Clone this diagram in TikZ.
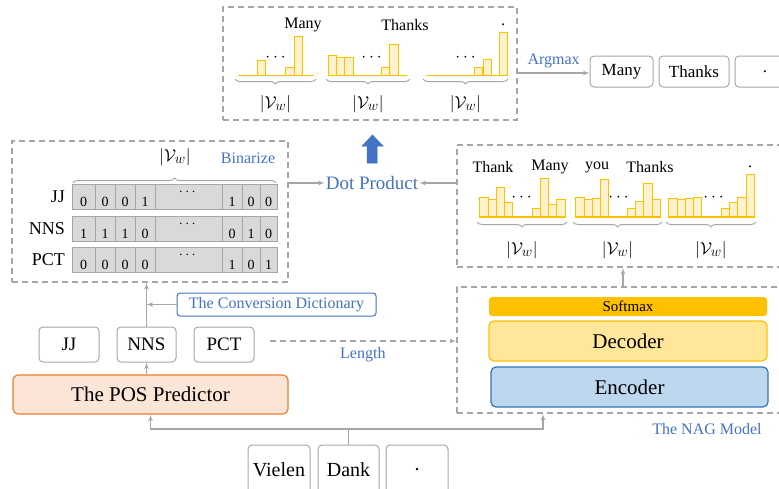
\documentclass[tikz,border=0pt]{standalone}
\usepackage{fontspec}
\setmainfont{Liberation Serif}
\usepackage{amsmath}
\usetikzlibrary{arrows,positioning,decorations.pathreplacing}
\definecolor{lgray}{HTML}{A6A6A6}
\definecolor{barline}{HTML}{FFC000}
\definecolor{barfill}{HTML}{FFF2CC}
\definecolor{cellgray}{HTML}{D9D9D9}
\definecolor{nagblue}{HTML}{4472C4}
\definecolor{decfill}{HTML}{FFE699}
\definecolor{encfill}{HTML}{BDD7EE}
\definecolor{encline}{HTML}{2E75B6}
\definecolor{posfill}{HTML}{FBE5D6}
\definecolor{posline}{HTML}{ED7D31}

\begin{document}
\begin{tikzpicture}[x=1pt,y=-1pt,>=latex',every node/.append style={align=center,inner sep=1pt},
    box/.style={draw=lgray, line width=1pt, rounded corners=4pt, minimum height=31pt, font=\fontsize{17}{20}\selectfont},
    frame/.style={draw=lgray, line width=1.6pt, dash pattern=on 6pt off 4pt},
    bar/.style={draw=barline, fill=barfill, line width=0.9pt},
    cell/.style={draw=lgray, fill=cellgray, line width=0.8pt},
    conn/.style={draw=lgray, line width=1.2pt},
    bluelab/.style={text=nagblue, font=\fontsize{16}{18}\selectfont},
    word/.style={font=\fontsize{16}{18}\selectfont},
    vsize/.style={font=\fontsize{19}{22}\selectfont},
    dotsize/.style={font=\fontsize{17}{20}\selectfont},
    curly/.style={decorate, decoration={brace, amplitude=5pt}, draw=lgray, line width=1pt}]
    \useasboundingbox (0,0) rectangle (779,488);
    \clip (0,0) rectangle (779,488);

    % output distributions
    \node [frame, minimum width=294pt, minimum height=113pt] (outbox) at (370,63.5) {};
    \foreach \xa/\w/\t in {257/8/60, 285/9/67, 294/8/36, 328/8/55, 336/8/57, 344/9/57, 381/8/67, 389/9/44, 474/8/67, 483/8/59, 499/8/32}
        \draw [bar] (\xa,75.5) rectangle ++(\w,\t-75.5);
    \foreach \xa/\xb in {238/314, 328/407, 427/507}
        \draw [barline, line width=1.2pt] (\xa,75.5) -- (\xb,75.5);
    \foreach \xa/\xb/\d in {235/316/277, 326/410/373, 423/508/467} {
        \draw [curly, decoration={mirror}] (\xa,79) -- (\xb,79);
        \node [vsize] at ({(\xa+\xb)/2},104) {$|\mathcal{V}_w|$};
        \node [dotsize] at (\d,58) {$\cdots$};
    }
    \node [word] (tMany)   at (303,25) {Many};
    \node [word] (tThanks) at (405,25) {Thanks};
    \node [word] (tDot)    at (503,25) {.};

    % argmax outputs
    \node [box, minimum width=63pt] (oMany) at (621.5,71.5) {Many};
    \node [box, minimum width=70pt, right=5pt of oMany] (oThanks) {Thanks};
    \node [box, minimum width=60pt, right=5pt of oThanks] (oDot) {.};
    \draw [conn,->] (outbox.east |- 0,73) -- (oMany.west |- 0,73) node [midway, above=3pt, bluelab] {Argmax};

    % dot product
    \node [text=nagblue, font=\fontsize{19}{22}\selectfont] (dot) at (372,183) {Dot Product};
    \fill [nagblue, draw=encline, line width=0.5pt] (367,163) -- (367,146) -- (362,146) -- (372.5,135) -- (383,146) -- (377,146) -- (377,163) -- cycle;

    % binarized dictionary
    \node [frame, minimum width=276pt, minimum height=141pt] (binbox) at (150,211.5) {};
    \node [vsize] (vbin) at (175,157) {$|\mathcal{V}_w|$};
    \node [bluelab] (binlab) at (248,158) {Binarize};
    \draw [curly] (73,183) -- (276,183);
    \foreach \lab/\y/\a/\b/\c/\d/\e/\f/\g in {JJ/197/0/0/0/1/1/0/0, NNS/229/1/1/1/0/0/1/0, PCT/260/0/0/0/0/1/0/1} {
        \node [anchor=east, font=\fontsize{18}{20}\selectfont] (row\lab) at (66,\y) {\lab};
        \foreach \xa/\xb/\v in {72/95/\a, 95/115/\b, 115/135/\c, 135/155/\d, 222/242/\e, 242/260/\f, 260/277/\g} {
            \draw [cell] (\xa,\y-12.5) rectangle (\xb,\y+12.5);
            \node [font=\fontsize{14}{16}\selectfont] at ({(\xa+\xb)/2},\y+5) {\v};
        }
        \draw [cell] (155,\y-12.5) rectangle (222,\y+12.5);
        \node [font=\fontsize{14}{16}\selectfont] at (188.5,\y-5) {$\cdots$};
    }

    % scores from the decoder
    \node [frame, minimum width=332pt, minimum height=122pt] (scorebox) at (623,206) {};
    \foreach \xa/\w/\t in {479/9/197, 488/8/199, 496/8/187, 504/8/202, 532/8/208, 540/8/178, 548/8/204, 556/9/199,
                          575/9/197, 584/8/199, 592/8/198, 600/8/179, 627/8/208, 635/8/201, 643/9/183, 652/8/199,
                          668/9/198, 677/8/199, 685/8/198, 693/8/197, 721/8/208, 729/8/202, 737/9/197, 746/8/174}
        \draw [bar] (\xa,217) rectangle ++(\w,\t-217);
    \foreach \xa/\xb/\d in {477/567/523, 573/662/620, 666/756/715} {
        \draw [barline, line width=1.2pt] (\xa+2,217) -- (\xb-2,217);
        \draw [curly, decoration={mirror}] (\xa,222) -- (\xb,222);
        \node [vsize] at ({(\xa+\xb)/2},250) {$|\mathcal{V}_w|$};
        \node [dotsize] at (\d,198) {$\cdots$};
    }
    \node [word] (sThank)  at (493,167) {Thank};
    \node [word] (sMany)   at (550,167) {Many};
    \node [word] (sYou)    at (597,167) {you};
    \node [word] (sThanks) at (650,167) {Thanks};
    \node [word] (sDot)    at (750,167) {.};

    \draw [conn,->] (binbox.east |- dot.west) -- (dot.west);
    \draw [conn,->] (scorebox.west |- dot.east) -- (dot.east);

    % the NAG model
    \node [frame, minimum width=332pt, minimum height=126pt] (nag) at (623,350) {};
    \node [fill=barline, rounded corners=3pt, minimum width=278pt, minimum height=19pt, inner sep=0pt, font=\fontsize{15}{16}\selectfont] (softmax) at (628,306.5) {Softmax};
    \node [draw=barline, fill=decfill, line width=1.2pt, rounded corners=5pt, minimum width=278pt, minimum height=40pt, font=\fontsize{21}{24}\selectfont] (dec) at (628,341) {Decoder};
    \node [draw=encline, fill=encfill, line width=1.2pt, rounded corners=5pt, minimum width=277pt, minimum height=40pt, font=\fontsize{21}{24}\selectfont] (enc) at (629.5,387) {Encoder};
    \node [bluelab] (naglab) at (707,429) {The NAG Model};
    \draw [conn,->] (nag.north) -- (scorebox.south);

    % the POS predictor
    \node [draw=posline, fill=posfill, line width=1.2pt, rounded corners=5pt, minimum width=275pt, minimum height=39pt, font=\fontsize{21}{24}\selectfont] (pos) at (150.5,394.5) {The POS Predictor};
    \node [box, minimum width=60pt, minimum height=35pt, font=\fontsize{19}{22}\selectfont] (jj) at (69,344.5) {JJ};
    \node [box, minimum width=59pt, minimum height=35pt, font=\fontsize{19}{22}\selectfont, right=17pt of jj] (nns) {NNS};
    \node [box, minimum width=60pt, minimum height=35pt, font=\fontsize{19}{22}\selectfont, right=17pt of nns] (pct) {PCT};
    \node [draw=nagblue, line width=1pt, rounded corners=3pt, minimum width=199pt, minimum height=23pt, bluelab] (conv) at (276.5,304.5) {The Conversion Dictionary};

    \draw [conn,->] (pos.north -| nns) -- (nns.south);
    \draw [conn,->] (nns.north) -- (nns.north |- binbox.south);
    \draw [conn,->] (conv.west) -- (conv.west -| nns.north);
    \draw [conn, dash pattern=on 6pt off 4pt, ->] ([xshift=15pt]pct.east |- 0,341) -- (nag.west |- 0,341)
        node [pos=0.5, below=5pt, bluelab] {Length};

    % source words
    \node [box, minimum width=62pt, minimum height=50pt, font=\fontsize{20}{24}\selectfont] (vielen) at (279,470) {Vielen};
    \node [box, minimum width=61pt, minimum height=50pt, font=\fontsize{20}{24}\selectfont, right=7pt of vielen] (dank) {Dank};
    \node [box, minimum width=62pt, minimum height=50pt, font=\fontsize{20}{24}\selectfont, right=6pt of dank] (period) {.};
    \coordinate (split) at (dank.north |- 0,429);
    \draw [conn] (dank.north) -- (split);
    \draw [conn,->] (split) -| (pos.south);
    \draw [conn,->] (split) -| ([xshift=-80pt]nag.south);
\end{tikzpicture}
\end{document}
